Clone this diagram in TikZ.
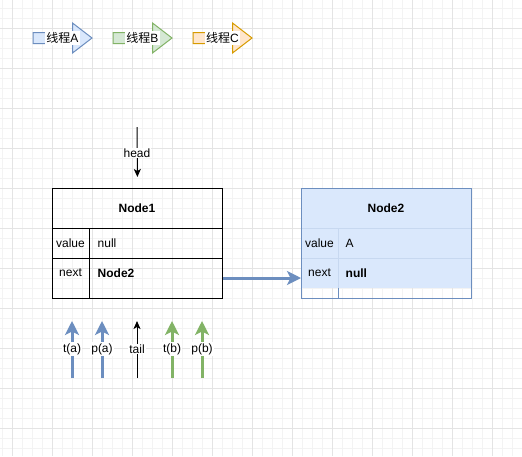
\documentclass[tikz,border=0pt]{standalone}
\usepackage{fontspec}
\setmainfont{Liberation Sans}
\newfontfamily\cjk{Noto Sans CJK SC}
\usetikzlibrary{arrows.meta,calc}
\definecolor{bstroke}{HTML}{6C8EBF}
\definecolor{bfill}{HTML}{DAE8FC}
\definecolor{bline}{HTML}{C7D8F0}
\definecolor{gstroke}{HTML}{82B366}
\definecolor{gfill}{HTML}{D5E8D4}
\definecolor{ostroke}{HTML}{D79B00}
\definecolor{ofill}{HTML}{FFE6CC}
\definecolor{gridmajor}{HTML}{E4E4E4}
\definecolor{gridminor}{HTML}{F3F3F3}
\tikzset{
  minorgrid/.style={draw=gridminor, line width=1pt},
  majorgrid/.style={draw=gridmajor, line width=1pt},
  txt/.style={inner sep=1pt, text=black},
  lbl/.style={inner sep=1pt, fill=white, text=black},
  tablebox/.style={draw, line width=1pt, minimum width=170pt, minimum height=110pt, anchor=north west, inner sep=0pt},
  thinarrow/.style={draw=black, line width=1pt, -{Stealth[length=8pt,width=7pt,inset=2pt]}},
  bigarrow/.style={line width=3pt, -{Stealth[length=14pt,width=14pt,inset=3.5pt]}},
  legendarrow/.style={line width=1pt, line join=miter}
}
\begin{document}
\begin{tikzpicture}[x=1pt,y=-1pt,font=\fontsize{12}{14}\selectfont]
\useasboundingbox (0,0) rectangle (522,456);
\fill[white] (0,0) rectangle (522,456);
% grid
\foreach \x in {2.5,12.5,...,522} \draw[minorgrid] (\x,0) -- (\x,456);
\foreach \y in {8.3,18.3,...,456} \draw[minorgrid] (0,\y) -- (522,\y);
\foreach \x in {12.5,52.5,...,522} \draw[majorgrid] (\x,0) -- (\x,456);
\foreach \y in {28.3,68.3,...,456} \draw[majorgrid] (0,\y) -- (522,\y);

% legend
\foreach \dx/\fc/\sc/\t/\nm in {0/bfill/bstroke/A/la,80/gfill/gstroke/B/lb,160/ofill/ostroke/C/lc}{
  \begin{scope}[xshift=\dx pt]
  \filldraw[legendarrow, fill=\fc, draw=\sc] (33,32.5) -- (72.5,32.5) -- (72.5,23) -- (92,38) -- (72.5,53) -- (72.5,43.5) -- (33,43.5) -- cycle;
  \node[lbl] (\nm) at (62.5,38) {{\cjk 线程}\t};
  \end{scope}
}

% Node1
\node[tablebox] (n1) at (52,188) {};
\draw[line width=1pt] (52,228) -- (222,228);
\draw[line width=1pt] (52,258) -- (222,258);
\draw[line width=1pt] (89,228) -- (89,298);
\node[txt] (n1t) at (137,208) {\textbf{Node1}};
\node[txt] (n1vk) at (70.5,243) {value};
\node[txt, anchor=west] (n1vv) at (96.5,243) {null};
\node[txt] (n1nk) at (70.5,273) {next};
\node[txt, anchor=west] (n1nv) at (96.5,273) {\textbf{Node2}};

% Node2
\fill[bfill] (301,188) rectangle (471,288);
\draw[bline, line width=1pt] (301,228) -- (471,228);
\draw[bline, line width=1pt] (301,258) -- (471,258);
\draw[bline, line width=1pt] (338,228) -- (338,288);
\draw[bstroke, line width=1pt] (338,288) -- (338,298);
\node[tablebox, draw=bstroke] (n2) at (301,188) {};
\node[txt] (n2t) at (386,208) {\textbf{Node2}};
\node[txt] (n2vk) at (319.5,243) {value};
\node[txt, anchor=west] (n2vv) at (344.5,243) {A};
\node[txt] (n2nk) at (319.5,273) {next};
\node[txt, anchor=west] (n2nv) at (344.5,273) {\textbf{null}};

% connector Node1 -> Node2
\draw[bigarrow, bstroke] ($(n1.south east)+(0,-21)$) -- ($(n2.south west)+(0,-21)$);

% head pointer
\coordinate (hs) at (137,127);
\draw[thinarrow, shorten >=11pt] (hs) -- (n1.north);
\node[lbl] (hl) at (137,153) {head};

% bottom pointers
\coordinate (ta) at (72,378);
\coordinate (pa) at (102,378);
\coordinate (tl) at (137,378);
\coordinate (tb) at (172,378);
\coordinate (pb) at (202,378);
\draw[bigarrow, bstroke, shorten >=22pt] (ta) -- (ta |- n1.south);
\draw[bigarrow, bstroke, shorten >=22pt] (pa) -- (pa |- n1.south);
\draw[thinarrow, shorten >=22pt] (tl) -- (tl |- n1.south);
\draw[bigarrow, gstroke, shorten >=22pt] (tb) -- (tb |- n1.south);
\draw[bigarrow, gstroke, shorten >=22pt] (pb) -- (pb |- n1.south);
\node[lbl] (tal) at (72,349) {t(a)};
\node[lbl] (pal) at (102,349) {p(a)};
\node[lbl] (tll) at (137,349) {tail};
\node[lbl] (tbl) at (172,349) {t(b)};
\node[lbl] (pbl) at (202,349) {p(b)};
\end{tikzpicture}
\end{document}
